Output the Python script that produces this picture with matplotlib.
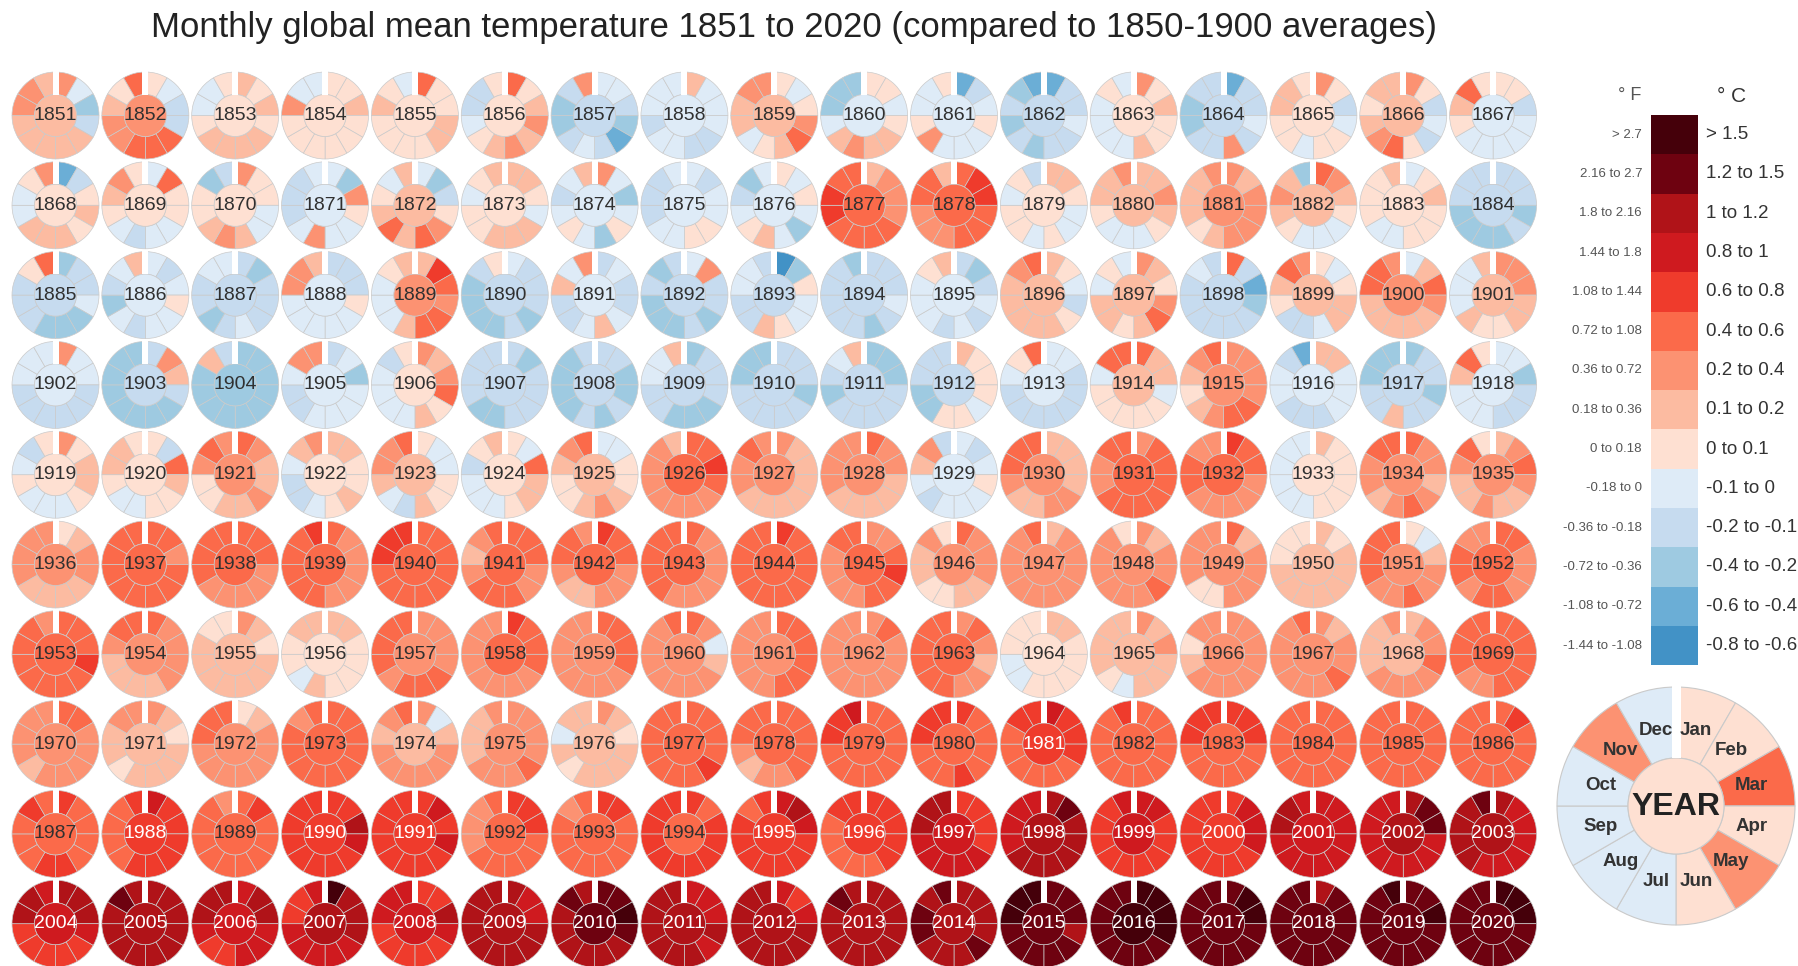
import math
import matplotlib
matplotlib.use("Agg")
import matplotlib.pyplot as plt
from matplotlib.patches import Wedge, Circle, Rectangle
from matplotlib.colors import ListedColormap, BoundaryNorm

# ---------------- data (colour class per wedge) -------------
YEARS = list(range(1851, 2021))
MONTHS = ["Jan", "Feb", "Mar", "Apr", "May", "Jun", "Jul", "Aug", "Sep", "Oct", "Nov", "Dec"]

# class code -> representative anomaly (deg C, vs 1850-1900)
CODE_VALUE = {"0": -0.7, "1": -0.5, "2": -0.3, "3": -0.15, "4": -0.05, "5": 0.05,
              "6": 0.15, "7": 0.3, "8": 0.5, "9": 0.7, "A": 0.9, "B": 1.1,
              "C": 1.35, "D": 1.6}

# annual mean (centre circle), one code per year, 17 years per row
ANNUAL_ROWS = [
    "67555534644353564",  # 1851-1867
    "55546544488567653",  # 1868-1884
    "34347343334663676",  # 1885-1901
    "43245333333467434",  # 1902-1918
    "55756568774788577",  # 1919-1935
    "78888888887777678",  # 1936-1952
    "87657877778567768",  # 1953-1969
    "76786768888988888",  # 1970-1986
    "8989988899ABA9ABB",  # 1987-2003
    "ABABABCBBBBCDCCCC",  # 2004-2020
]

# monthly anomalies Jan..Dec, one string per year
MONTHLY = [
    # 1851-1867
    "742366666776", "543388877658", "656566665445", "556555555744", "855665555654",
    "856767654335", "443213432237", "644433443444", "545786546677", "554566764222",
    "134544475445", "133433232321", "756556444454", "133437332233", "753455455665",
    "753435876566", "553444445685",
    # 1868-1884
    "135656664457", "485544345675", "755446765523", "427544743334", "423578686546",
    "665466655456", "742452454346", "434455443334", "545424654324", "677788889988",
    "899888777886", "665445455453", "667654445667", "767777656667", "876544456762",
    "456555445556", "333232222333",
    # 1885-1901
    "233422233358", "434544342346", "323334323344", "333544444776", "698788644456",
    "433323222235", "343346433647", "473323222323", "025445633443", "333432333332",
    "323434344456", "654356666678", "765786566454", "831233333343", "545664335687",
    "468766666887", "777665564446",
    # 1902-1918
    "744333333444", "376322222222", "222222222263", "342444433477", "767856444435",
    "323333223333", "332232322223", "233322233446", "333233333222", "222333332346",
    "655545522333", "443333333458", "866455555488", "777788765678", "664443334431",
    "233233633222", "442333444685",
    # 1919-1935
    "756654445435", "538655445665", "876676655787", "665565433467", "544556346778",
    "548665444356", "445567655678", "889877777776", "766666667787", "877666667777",
    "434544434673", "666677667888", "788888887788", "988777778877", "655555444444",
    "877678767788", "678766766785",
    # 1936-1952
    "567766667777", "887888888888", "888777778888", "877777888889", "888888888999",
    "888778887678", "988777667887", "877777788888", "988888888888", "778988777788",
    "877766556675", "677777777778", "767787777775", "867777557777", "656666666555",
    "546778778888", "887778878877",
    # 1953-1969
    "888988888887", "877776666788", "765666666655", "665555645566", "777788878888",
    "988877777777", "888877777777", "874677777778", "888888777777", "787777777777",
    "787677888888", "665555544555", "767666456666", "777777776577", "767787777778",
    "677877776667", "888888778888",
    # 1970-1986
    "887777767777", "765666656677", "567777777888", "888888888878", "746777777678",
    "777787776667", "765666656466", "888898888888", "888887767888", "88888888899A",
    "988889888999", "A99988888899", "888888888889", "999888888999", "888888888888",
    "888888888888", "898888888888",
    # 1987-2003
    "988889988898", "A99999988889", "898888888887", "99BA99999999", "9A9A99999999",
    "999888887778", "998888888878", "989999999999", "ABA999999989", "999998888899",
    "9999AAAAABBB", "BCBBBBBBAAAA", "AA999999999A", "9AAA99999999", "AAAAAAAAABBA",
    "BCCAAAAAAAAA", "BAAAAAABBBBC",
    # 2004-2020
    "BBBA99999BBA", "BBBBBBBBBBCB", "ABBAAA99ABBB", "DBBBAAAAA99A", "99BA99999AAA",
    "BAABBBBBBBBB", "CCDCBBBBBBCB", "AAABABBBBBBB", "A9ABBBBBBBBB", "BBBBBBBBBBCB",
    "BBBBCBBBCCBC", "CCCBCCCCCDDD", "DDDDCCCCCCCC", "CDDCCCCCCCCC", "BCCCCCCCCCCC",
    "CCDCCCCCCCCD", "DDDCCCCCCCCC",
]

# example wheel of the key
KEY_MONTHLY = "558575444474"
KEY_ANNUAL = "5"

# colour classes
BIN_EDGES = [-0.8, -0.6, -0.4, -0.2, -0.1, 0.0, 0.1, 0.2, 0.4, 0.6, 0.8, 1.0, 1.2, 1.5, 3.0]
BIN_COLORS = ["#4292c6", "#6baed6", "#9ecae1", "#c6dbef", "#deebf7",
              "#fee0d2", "#fcbba1", "#fc9272", "#fb6a4a", "#ef3b2c",
              "#cf1a1f", "#b01318", "#6e0210", "#45000a"]
LABELS_C = ["-0.8 to -0.6", "-0.6 to -0.4", "-0.4 to -0.2", "-0.2 to -0.1", "-0.1 to 0",
            "0 to 0.1", "0.1 to 0.2", "0.2 to 0.4", "0.4 to 0.6", "0.6 to 0.8",
            "0.8 to 1", "1 to 1.2", "1.2 to 1.5", "> 1.5"]
LABELS_F = ["-1.44 to -1.08", "-1.08 to -0.72", "-0.72 to -0.36", "-0.36 to -0.18",
            "-0.18 to 0", "0 to 0.18", "0.18 to 0.36", "0.36 to 0.72", "0.72 to 1.08",
            "1.08 to 1.44", "1.44 to 1.8", "1.8 to 2.16", "2.16 to 2.7", "> 2.7"]

TITLE = "Monthly global mean temperature 1851 to 2020 (compared to 1850-1900 averages)"

# ---------------- drawing -------------
cmap = ListedColormap(BIN_COLORS)
norm = BoundaryNorm(BIN_EDGES, cmap.N)
FONT = ["Liberation Sans", "DejaVu Sans"]

W, H = 1798, 966
fig = plt.figure(figsize=(W / 100, H / 100), dpi=100)
ax = fig.add_axes([0, 0, 1, 1])
ax.set_xlim(0, W)
ax.set_ylim(H, 0)
ax.set_aspect("equal")
ax.axis("off")

ANNUAL = "".join(ANNUAL_ROWS)
EDGE = "#cacaca"


def draw_wheel(cx, cy, R, r_in, months, annual, slit, lw=0.5):
    for m, code in enumerate(months):
        col = cmap(norm(CODE_VALUE[code]))
        th1 = -90 + 30 * m
        ax.add_patch(Wedge((cx, cy), R, th1, th1 + 30, width=R - r_in,
                           facecolor=col, edgecolor=EDGE, linewidth=lw))
    ax.add_patch(Circle((cx, cy), r_in, facecolor=cmap(norm(CODE_VALUE[annual])),
                        edgecolor=EDGE, linewidth=lw))
    ax.add_patch(Rectangle((cx - slit / 2, cy - R - 1.5), slit, R - r_in + 1.5,
                           facecolor="white", edgecolor="none", zorder=3))


X0, DX = 55.5, 89.85
Y0, DY = 115.5, 89.8
R_OUT, R_IN = 43.5, 21.0
for i, year in enumerate(YEARS):
    row, colm = divmod(i, 17)
    cx = X0 + colm * DX
    cy = Y0 + row * DY
    draw_wheel(cx, cy, R_OUT, R_IN, MONTHLY[i], ANNUAL[i], 6)
    tcol = "white" if ANNUAL[i] in "9ABCD" else "#303030"
    ax.text(cx, cy, str(year), ha="center", va="center", fontsize=14,
            color=tcol, family=FONT, zorder=5)

ax.text(794, 27, TITLE, ha="center", va="center", fontsize=25,
        color="#222222", family=FONT)

# colour key
bx, bw = 1651, 47
by_top, bh = 115, 39.3
n = len(BIN_COLORS)
for k in range(n):
    idx = n - 1 - k
    y = by_top + k * bh
    ax.add_patch(Rectangle((bx, y), bw, bh, facecolor=BIN_COLORS[idx], edgecolor="none"))
    ax.text(1642, y + bh / 2, LABELS_F[idx], ha="right", va="center", fontsize=9.5,
            color="#555555", family=FONT)
    ax.text(1706, y + bh / 2, LABELS_C[idx], ha="left", va="center", fontsize=13.5,
            color="#333333", family=FONT)
ax.text(1630, 96, "° F", ha="center", va="center", fontsize=13, color="#555555", family=FONT)
ax.text(1732, 96, "° C", ha="center", va="center", fontsize=15, color="#333333", family=FONT)

# example wheel
kcx, kcy, kR, kr = 1676, 806, 119, 48
draw_wheel(kcx, kcy, kR, kr, KEY_MONTHLY, KEY_ANNUAL, 9, lw=0.8)
for m, name in enumerate(MONTHS):
    phi = math.radians(15 + 30 * m)
    rr = 0.655 * kR
    ax.text(kcx + rr * math.sin(phi), kcy - rr * math.cos(phi), name, ha="center",
            va="center", fontsize=13.5, fontweight="bold", color="#333333", family=FONT,
            zorder=5)
ax.text(kcx, kcy + 1, "YEAR", ha="center", va="center", fontsize=23, fontweight="bold",
        color="#222222", family=FONT, zorder=5)

fig.savefig("out.png", dpi=100, facecolor="white")
